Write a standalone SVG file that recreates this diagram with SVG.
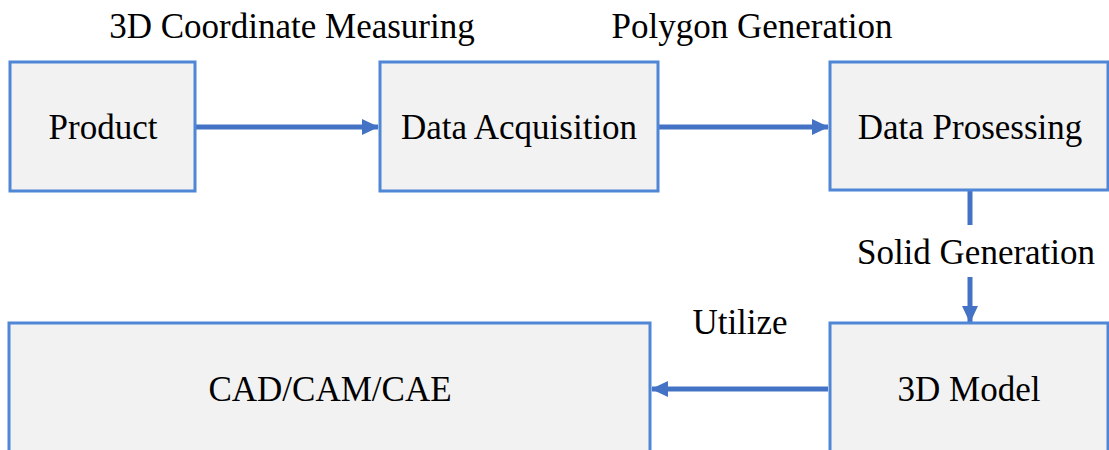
<svg xmlns="http://www.w3.org/2000/svg" width="1109" height="450" viewBox="0 0 1109 450">
  <style>
    .box { fill: #f2f2f2; stroke: #4f86d6; stroke-width: 3; }
    .lbl { font-family: "Liberation Serif", "Times New Roman", serif; font-size: 35px; fill: #000; text-anchor: middle; }
    .conn { stroke: #4472c4; stroke-width: 5; fill: none; }
  </style>
  <defs>
    <marker id="arrow" markerUnits="userSpaceOnUse" markerWidth="18" markerHeight="18" refX="16" refY="9" orient="auto">
      <path d="M0,1 L17,9 L0,17 Z" fill="#4472c4"/>
    </marker>
  </defs>

  <rect width="1109" height="450" fill="#ffffff"/>

  <!-- connectors -->
  <g id="connectors">
    <line class="conn" x1="196" y1="127" x2="378" y2="127" marker-end="url(#arrow)"/>
    <line class="conn" x1="659" y1="127" x2="828" y2="127" marker-end="url(#arrow)"/>
    <line class="conn" x1="970" y1="191" x2="970" y2="225"/>
    <line class="conn" x1="970" y1="277" x2="970" y2="322" marker-end="url(#arrow)"/>
    <line class="conn" x1="828" y1="389" x2="652" y2="389" marker-end="url(#arrow)"/>
    <text class="lbl" x="292" y="38">3D Coordinate Measuring</text>
    <text class="lbl" x="752" y="38">Polygon Generation</text>
    <text class="lbl" x="976" y="264">Solid Generation</text>
    <text class="lbl" x="740" y="334">Utilize</text>
  </g>

  <g id="product">
    <rect class="box" x="10" y="62" width="185" height="129"/>
    <text class="lbl" x="103" y="139">Product</text>
  </g>

  <g id="data-acquisition">
    <rect class="box" x="380" y="62" width="278" height="129"/>
    <text class="lbl" x="519" y="139">Data Acquisition</text>
  </g>

  <g id="data-processing">
    <rect class="box" x="830" y="62" width="278" height="128"/>
    <text class="lbl" x="970" y="139">Data Prosessing</text>
  </g>

  <g id="model-3d">
    <rect class="box" x="830" y="323" width="278" height="140"/>
    <text class="lbl" x="969" y="401">3D Model</text>
  </g>

  <g id="cad-cam-cae">
    <rect class="box" x="9" y="323" width="641" height="140"/>
    <text class="lbl" x="330" y="401">CAD/CAM/CAE</text>
  </g>
</svg>
